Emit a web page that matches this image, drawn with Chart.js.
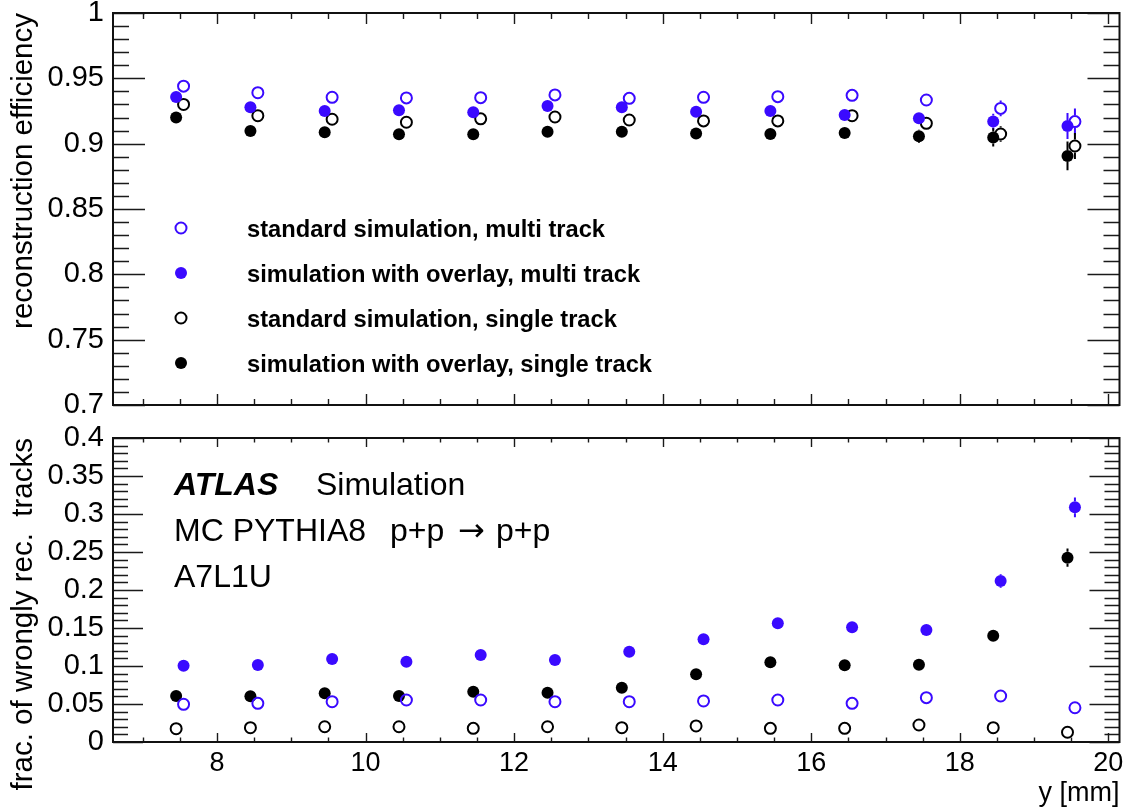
<!DOCTYPE html>
<html><head><meta charset="utf-8">
<script src="https://cdn.jsdelivr.net/npm/chart.js@4.4.1/dist/chart.umd.min.js"></script>
<style>
html,body{margin:0;padding:0;background:#fff;}
#wrap{position:relative;width:1127px;height:807px;overflow:hidden;background:#fff;}
#c1{position:absolute;left:0;top:0;}
#c2{position:absolute;left:0;top:420px;}
</style></head><body>
<div id="wrap"><canvas id="c1" width="1127" height="420"></canvas><canvas id="c2" width="1127" height="387"></canvas></div>
<script>
// ---------------- data ----------------
const xLeft  = [7.45, 8.45, 9.45, 10.45, 11.45, 12.45, 13.45, 14.45, 15.45, 16.45, 17.45, 18.45, 19.45];
const xRight = [7.55, 8.55, 9.55, 10.55, 11.55, 12.55, 13.55, 14.55, 15.55, 16.55, 17.55, 18.55, 19.55];

const seriesLabels = [
  'standard simulation, multi track',
  'simulation with overlay, multi track',
  'standard simulation, single track',
  'simulation with overlay, single track'
];

// top panel: reconstruction efficiency
const effStdMulti   = [0.944, 0.939, 0.9355, 0.935, 0.9352, 0.9373, 0.9347, 0.9355, 0.936, 0.937, 0.9334, 0.927, 0.9169];
const effOvlMulti   = [0.9357, 0.9278, 0.925, 0.9255, 0.924, 0.9289, 0.9278, 0.9245, 0.925, 0.922, 0.9194, 0.9169, 0.9135];
const effStdSingle  = [0.930, 0.9214, 0.9187, 0.9164, 0.919, 0.9204, 0.9181, 0.9174, 0.9174, 0.9214, 0.9156, 0.9074, 0.8982];
const effOvlSingle  = [0.920, 0.9097, 0.9087, 0.9072, 0.9072, 0.9092, 0.9092, 0.9077, 0.9074, 0.9082, 0.9056, 0.9048, 0.8906];
const effErrStdMulti  = [0.001, 0.001, 0.001, 0.001, 0.001, 0.001, 0.001, 0.001, 0.001, 0.002, 0.003, 0.006, 0.010];
const effErrOvlMulti  = [0.001, 0.001, 0.001, 0.001, 0.001, 0.001, 0.001, 0.001, 0.001, 0.002, 0.004, 0.006, 0.010];
const effErrStdSingle = [0.001, 0.001, 0.001, 0.001, 0.001, 0.001, 0.001, 0.001, 0.001, 0.002, 0.004, 0.006, 0.010];
const effErrOvlSingle = [0.001, 0.001, 0.001, 0.001, 0.001, 0.001, 0.001, 0.001, 0.001, 0.002, 0.005, 0.007, 0.011];

// bottom panel: fraction of wrongly reconstructed tracks
const fakeStdMulti  = [0.0496, 0.0509, 0.053, 0.0553, 0.0553, 0.053, 0.053, 0.054, 0.0553, 0.0509, 0.0583, 0.0605, 0.0451];
const fakeOvlMulti  = [0.1004, 0.1013, 0.1092, 0.1057, 0.1145, 0.1079, 0.1189, 0.1351, 0.1561, 0.1509, 0.1474, 0.2118, 0.3088];
const fakeStdSingle = [0.0175, 0.0188, 0.0201, 0.0201, 0.018, 0.0201, 0.0188, 0.0211, 0.018, 0.018, 0.0224, 0.0188, 0.0128];
const fakeOvlSingle = [0.0605, 0.0601, 0.0641, 0.0605, 0.0662, 0.0649, 0.0715, 0.0891, 0.1049, 0.101, 0.1017, 0.1399, 0.2425];
const fakeErrStdMulti  = [0.002, 0.002, 0.002, 0.002, 0.002, 0.002, 0.002, 0.002, 0.002, 0.002, 0.003, 0.004, 0.005];
const fakeErrOvlMulti  = [0.003, 0.003, 0.003, 0.003, 0.003, 0.003, 0.003, 0.003, 0.004, 0.004, 0.005, 0.009, 0.013];
const fakeErrStdSingle = [0.001, 0.001, 0.001, 0.001, 0.001, 0.001, 0.001, 0.001, 0.001, 0.001, 0.002, 0.002, 0.003];
const fakeErrOvlSingle = [0.002, 0.002, 0.002, 0.002, 0.002, 0.002, 0.002, 0.003, 0.003, 0.003, 0.004, 0.006, 0.012];

// axis ticks
const xTickValues = [8, 10, 12, 14, 16, 18, 20];
const xTickLabels = ['8', '10', '12', '14', '16', '18', '20'];
const yTopTickValues = [0.7, 0.75, 0.8, 0.85, 0.9, 0.95, 1];
const yTopTickLabels = ['0.7', '0.75', '0.8', '0.85', '0.9', '0.95', '1'];
const yBotTickValues = [0, 0.05, 0.1, 0.15, 0.2, 0.25, 0.3, 0.35, 0.4];
const yBotTickLabels = ['0', '0.05', '0.1', '0.15', '0.2', '0.25', '0.3', '0.35', '0.4'];

// ---------------- style ----------------
const FONT = '"Liberation Sans", Arial, Helvetica, sans-serif';
const ARROWFONT = '"DejaVu Sans", sans-serif';
const BLUE = '#3a0aff';
const BLACK = '#000000';
const NOFILL = 'rgba(0,0,0,0)';

function pts(xs, ys) { return xs.map((x, i) => ({ x: x, y: ys[i] })); }
function range(a, b, step) { const out = []; const n = Math.round((b - a) / step); for (let k = 0; k <= n; k++) out.push(+(a + k * step).toFixed(4)); return out; }

const xMinorTicks = range(7, 20, 0.5);

const rootFrame = {
  id: 'rootFrame',
  beforeDatasetsDraw(chart) {
    const ctx = chart.ctx, xs = chart.scales.x, ys = chart.scales.y;
    ctx.save();
    chart.data.datasets.forEach(ds => {
      if (!ds.errors) return;
      ctx.strokeStyle = ds.borderColor; ctx.lineWidth = 2;
      const r = ds.pointRadius + (ds.borderWidth || 0) / 2;
      ds.data.forEach((p, i) => {
        const e = ds.errors[i]; if (!e) return;
        const px = xs.getPixelForValue(p.x);
        const pc = ys.getPixelForValue(p.y);
        const pt = ys.getPixelForValue(p.y + e);
        const pb = ys.getPixelForValue(p.y - e);
        ctx.beginPath();
        if (pc - pt > r) { ctx.moveTo(px, pt); ctx.lineTo(px, pc - r); }
        if (pb - pc > r) { ctx.moveTo(px, pc + r); ctx.lineTo(px, pb); }
        ctx.stroke();
      });
    });
    ctx.restore();
  },
  afterDraw(chart, args, o) {
    const ctx = chart.ctx, a = chart.chartArea, xs = chart.scales.x, ys = chart.scales.y;
    ctx.save();
    ctx.strokeStyle = '#1a1a1a';
    ctx.lineWidth = 1.4;
    ctx.beginPath();
    o.xMinor.forEach(v => {
      const p = Math.round(xs.getPixelForValue(v)) + 0.5;
      const len = o.xMajor.includes(v) ? o.xMajLen : o.xMinLen;
      ctx.moveTo(p, a.bottom); ctx.lineTo(p, a.bottom - len);
      ctx.moveTo(p, a.top); ctx.lineTo(p, a.top + len);
    });
    o.yMinor.forEach(v => {
      const p = Math.round(ys.getPixelForValue(v)) + 0.5;
      const len = o.yMajor.some(m => Math.abs(m - v) < 1e-6) ? o.yMajLen : o.yMinLen;
      ctx.moveTo(a.left, p); ctx.lineTo(a.left + len, p);
      ctx.moveTo(a.right, p); ctx.lineTo(a.right - len, p);
    });
    ctx.stroke();
    ctx.lineWidth = 2;
    ctx.strokeStyle = '#111';
    ctx.strokeRect(a.left, a.top, a.right - a.left, a.bottom - a.top);
    // legend
    if (o.legend) {
      const L = o.legend;
      chart.data.datasets.forEach((ds, i) => {
        const y = L.y0 + i * L.dy;
        ctx.beginPath();
        ctx.arc(L.markerX, y, ds.pointRadius, 0, Math.PI * 2);
        if (ds.backgroundColor !== NOFILL) { ctx.fillStyle = ds.backgroundColor; ctx.fill(); }
        else { ctx.lineWidth = ds.borderWidth; ctx.strokeStyle = ds.borderColor; ctx.stroke(); }
        ctx.fillStyle = '#000';
        ctx.font = 'bold ' + L.size + 'px ' + FONT;
        ctx.textBaseline = 'middle'; ctx.textAlign = 'left';
        ctx.fillText(ds.label, L.textX, y + 2);
      });
    }
    if (o.texts) {
      ctx.fillStyle = '#000'; ctx.textBaseline = 'middle'; ctx.textAlign = 'left';
      o.texts.forEach(t => {
        ctx.font = t.font;
        ctx.fillText(t.text, t.x, t.y + (t.dy || 0));
      });
    }
    ctx.restore();
  }
};

function makeY(values, labels, title, min, max) {
  return {
    type: 'linear', min: min, max: max,
    afterBuildTicks: s => { s.ticks = values.map(v => ({ value: v })); },
    afterFit: s => { s.width = 113; s.paddingTop = 0; s.paddingBottom = 0; },
    grid: { display: false, drawTicks: false },
    border: { display: false },
    ticks: { autoSkip: false, padding: 9, color: '#000', font: { family: FONT, size: 29 }, callback: (v, i) => labels[i] },
    title: { display: true, text: title, align: 'end', color: '#000', font: { family: FONT, size: 29.5, lineHeight: 1.2 }, padding: { top: 6, bottom: 0 } }
  };
}

function ds(label, xs, ys, errs, color, filled) {
  return {
    label: label, data: pts(xs, ys), errors: errs,
    borderColor: color, backgroundColor: filled ? color : NOFILL,
    pointRadius: filled ? 6 : 5.5, pointBorderWidth: filled ? 0 : 2, borderWidth: filled ? 0 : 2,
    pointHoverRadius: 0, showLine: false
  };
}

const common = { responsive: false, animation: false, devicePixelRatio: 1, events: [] };

new Chart(document.getElementById('c1'), {
  type: 'scatter',
  data: { datasets: [
    ds(seriesLabels[0], xRight, effStdMulti, effErrStdMulti, BLUE, false),
    ds(seriesLabels[1], xLeft, effOvlMulti, effErrOvlMulti, BLUE, true),
    ds(seriesLabels[2], xRight, effStdSingle, effErrStdSingle, BLACK, false),
    ds(seriesLabels[3], xLeft, effOvlSingle, effErrOvlSingle, BLACK, true)
  ] },
  options: Object.assign({}, common, {
    layout: { padding: { top: 13, right: 4, left: 0, bottom: 0 } },
    scales: {
      x: {
        type: 'linear', min: 6.6, max: 20.15,
        afterBuildTicks: s => { s.ticks = xTickValues.map(v => ({ value: v })); },
        afterFit: s => { s.height = 15; s.paddingLeft = 0; s.paddingRight = 0; },
        grid: { display: false }, border: { display: false }, ticks: { display: false }
      },
      y: makeY(yTopTickValues, yTopTickLabels, 'reconstruction efficiency', 0.7, 1)
    },
    plugins: {
      legend: { display: false }, tooltip: { enabled: false },
      rootFrame: {
        xMinor: xMinorTicks, xMajor: xTickValues, xMajLen: 11, xMinLen: 6,
        yMinor: range(0.7, 1, 0.01), yMajor: yTopTickValues, yMajLen: 32, yMinLen: 16,
        legend: { markerX: 181, textX: 247, y0: 228, dy: 45, size: 23.7 }
      }
    }
  }),
  plugins: [rootFrame]
});

new Chart(document.getElementById('c2'), {
  type: 'scatter',
  data: { datasets: [
    ds(seriesLabels[0], xRight, fakeStdMulti, fakeErrStdMulti, BLUE, false),
    ds(seriesLabels[1], xRight, fakeOvlMulti, fakeErrOvlMulti, BLUE, true),
    ds(seriesLabels[2], xLeft, fakeStdSingle, fakeErrStdSingle, BLACK, false),
    ds(seriesLabels[3], xLeft, fakeOvlSingle, fakeErrOvlSingle, BLACK, true)
  ] },
  options: Object.assign({}, common, {
    layout: { padding: { top: 18, right: 4, left: 0, bottom: 0 } },
    scales: {
      x: {
        type: 'linear', min: 6.6, max: 20.15,
        afterBuildTicks: s => { s.ticks = xTickValues.map(v => ({ value: v })); },
        afterFit: s => { s.height = 65; s.paddingLeft = 0; s.paddingRight = 0; },
        grid: { display: false, drawTicks: false }, border: { display: false },
        ticks: { autoSkip: false, maxRotation: 0, padding: 5, color: '#000', font: { family: FONT, size: 27 }, callback: (v, i) => xTickLabels[i] },
        title: { display: true, text: 'y [mm]', align: 'end', color: '#000', font: { family: FONT, size: 27, lineHeight: 1 }, padding: 0 }
      },
      y: makeY(yBotTickValues, yBotTickLabels, 'frac. of wrongly rec.  tracks', 0, 0.4)
    },
    plugins: {
      legend: { display: false }, tooltip: { enabled: false },
      rootFrame: {
        xMinor: xMinorTicks, xMajor: xTickValues, xMajLen: 9, xMinLen: 4.5,
        yMinor: range(0, 0.4, 0.01), yMajor: yBotTickValues, yMajLen: 30, yMinLen: 15,
        texts: [
          { text: 'ATLAS', x: 174, y: 66, font: 'italic bold 32px ' + FONT },
          { text: 'Simulation', x: 316, y: 66, font: '32px ' + FONT },
          { text: 'MC PYTHIA8', x: 174, y: 112, font: '32px ' + FONT },
          { text: 'p+p', x: 390, y: 112, font: '32px ' + FONT },
          { text: '\u2192', x: 458, y: 112, dy: 1, font: '32px ' + ARROWFONT },
          { text: 'p+p', x: 496, y: 112, font: '32px ' + FONT },
          { text: 'A7L1U', x: 174, y: 158, font: '32px ' + FONT }
        ]
      }
    }
  }),
  plugins: [rootFrame]
});
</script>
</body></html>
